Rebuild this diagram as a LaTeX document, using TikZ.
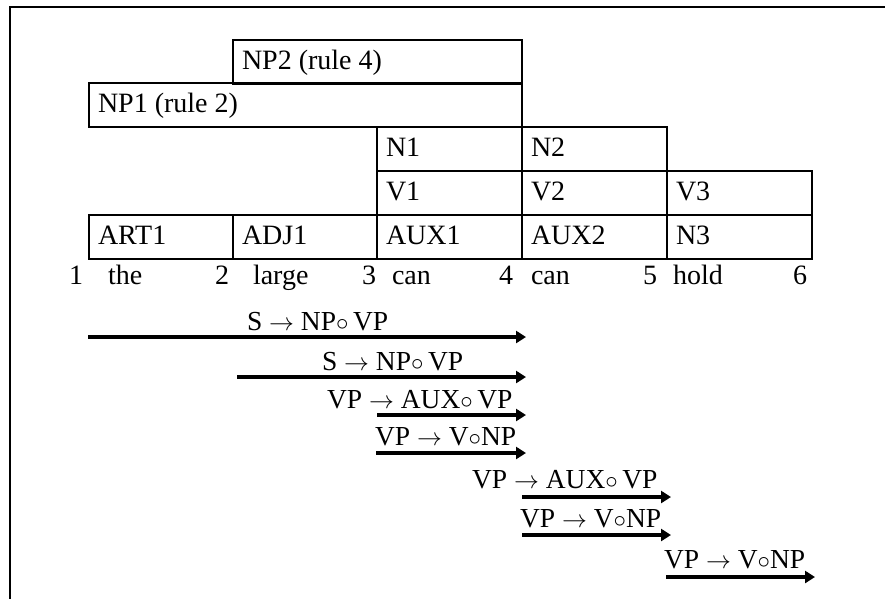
\documentclass[tikz,border=0pt]{standalone}
\usepackage{fontspec}
\setmainfont{Liberation Serif}
\usetikzlibrary{arrows.meta,calc}
\newcommand{\ra}{$\rightarrow$}
\newcommand{\dotc}{$\circ$}
\begin{document}
\begin{tikzpicture}[x=1pt,y=-1pt,
  every node/.style={inner sep=0pt,outer sep=0pt,font=\fontsize{28}{32}\selectfont},
  cell/.style={draw,line width=2pt,anchor=north west,minimum height=44pt},
  lbl/.style={anchor=base west},
  rule/.style={anchor=base west,font=\fontsize{27.5}{32}\selectfont},
  num/.style={anchor=base east},
  edge/.style={line width=3.6pt,-{Triangle[length=10pt,width=12pt]}},
  frame/.style={line width=2pt}]
\useasboundingbox (0,0) rectangle (885,598);
% frame (top and left only)
\coordinate (fa) at (10,6.5);
\coordinate (fb) at (886,6.5);
\coordinate (fc) at (10,599);
\draw[frame] (fb) -- (fa) -- (fc);
% boxes
\node[cell,minimum width=289pt] (np2) at (233,40) {};
\node[cell,minimum width=433pt] (np1) at (89,83) {};
\node[cell,minimum width=145pt] (n1) at (377,127) {};
\node[cell,minimum width=145pt] (n2) at (522,127) {};
\node[cell,minimum width=145pt] (v1) at (377,171) {};
\node[cell,minimum width=145pt] (v2) at (522,171) {};
\node[cell,minimum width=145pt] (v3) at (667,171) {};
\node[cell,minimum width=144pt] (art1) at (89,215) {};
\node[cell,minimum width=144pt] (adj1) at (233,215) {};
\node[cell,minimum width=145pt] (aux1) at (377,215) {};
\node[cell,minimum width=145pt] (aux2) at (522,215) {};
\node[cell,minimum width=145pt] (n3) at (667,215) {};
% box texts
\foreach \b/\t in {np2/NP2 (rule 4),np1/NP1 (rule 2),n1/N1,n2/N2,v1/V1,v2/V2,v3/V3,art1/ART1,adj1/ADJ1,aux1/AUX1,aux2/AUX2,n3/N3}
  \node[lbl] (t\b) at ($(\b.north west)+(9,29)$) {\t};
% positions and words
\node[num] (p1) at (83,284) {1};
\node[lbl] (w1) at (108,284) {the};
\node[num] (p2) at (229,284) {2};
\node[lbl] (w2) at (253,284) {large};
\node[num] (p3) at (376,284) {3};
\node[lbl] (w3) at (392,284) {can};
\node[num] (p4) at (513,284) {4};
\node[lbl] (w4) at (531,284) {can};
\node[num] (p5) at (657,284) {5};
\node[lbl] (w5) at (673,284) {hold};
\node[num] (p6) at (807,284) {6};
% active arcs
\coordinate (a1s) at (88,337);  \coordinate (a1e) at (526,337);
\coordinate (a2s) at (237,377); \coordinate (a2e) at (526,377);
\coordinate (a3s) at (377,415); \coordinate (a3e) at (526,415);
\coordinate (a4s) at (376,453); \coordinate (a4e) at (526,453);
\coordinate (a5s) at (522,497); \coordinate (a5e) at (671,497);
\coordinate (a6s) at (522,535); \coordinate (a6e) at (671,535);
\coordinate (a7s) at (666,577); \coordinate (a7e) at (815,577);
\foreach \i in {1,...,7} \draw[edge] (a\i s) -- (a\i e);
\node[rule] (r1) at (247,330) {S \ra{} NP\dotc\,VP};
\node[rule] (r2) at (322,370) {S \ra{} NP\dotc\,VP};
\node[rule] (r3) at (327,408) {VP \ra{} AUX\dotc\,VP};
\node[rule] (r4) at (375,445) {VP \ra{} V\dotc{}NP};
\node[rule] (r5) at (472,488) {VP \ra{} AUX\dotc\,VP};
\node[rule] (r6) at (520,527) {VP \ra{} V\dotc{}NP};
\node[rule] (r7) at (664,568) {VP \ra{} V\dotc{}NP};
\end{tikzpicture}
\end{document}
